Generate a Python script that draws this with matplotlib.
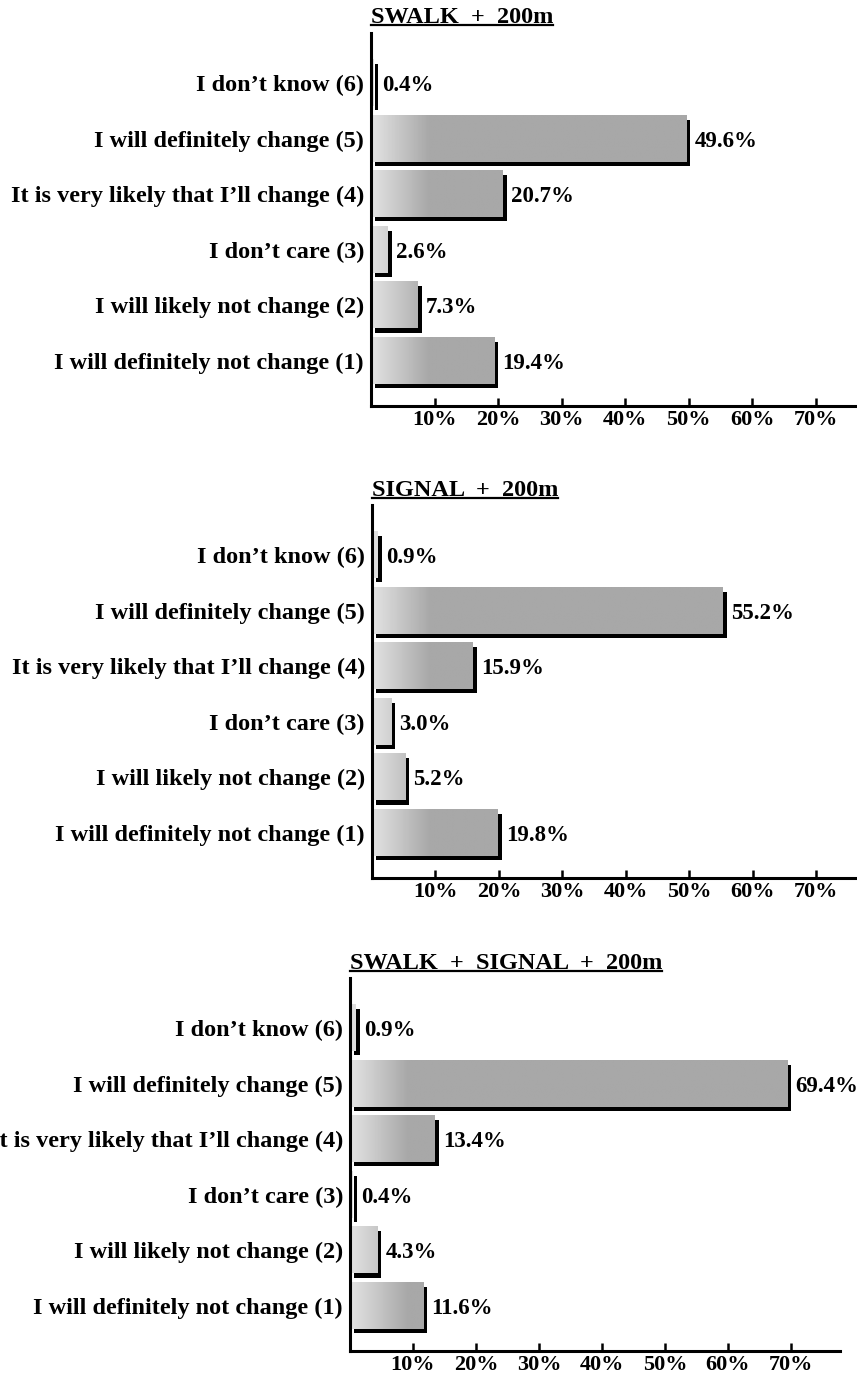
import numpy as np
import matplotlib
matplotlib.use('Agg')
import matplotlib.pyplot as plt
import matplotlib.patheffects as pe
from matplotlib.lines import Line2D

plt.rcParams['font.family'] = ['Liberation Serif', 'DejaVu Serif']
plt.rcParams['font.weight'] = 'bold'

# categories, top to bottom as shown
categories = ['I don’t know (6)',
              'I will definitely change (5)',
              'It is very likely that I’ll change (4)',
              'I don’t care (3)',
              'I will likely not change (2)',
              'I will definitely not change (1)']

titles = ['SWALK  +  200m', 'SIGNAL  +  200m', 'SWALK  +  SIGNAL  +  200m']
swalk = [0.4, 49.6, 20.7, 2.6, 7.3, 19.4]
signal = [0.9, 55.2, 15.9, 3.0, 5.2, 19.8]
both = [0.9, 69.4, 13.4, 0.4, 4.3, 11.6]
series = [swalk, signal, both]

xticks = [10, 20, 30, 40, 50, 60, 70]
xticklabels = ['10%', '20%', '30%', '40%', '50%', '60%', '70%']

fig = plt.figure(figsize=(8.57, 13.77), dpi=100)

# axes rectangles in figure fractions, and right x limit
rects = [[0.4329, 0.7052, 0.5671, 0.2709],
         [0.4340, 0.3624, 0.5660, 0.2709],
         [0.4084, 0.0189, 0.5718, 0.2709]]
xmax = [76.5, 76.4, 77.8]

# gray shading for the bars: light near the axis, darker further out
def shade(x):
    t = np.clip(x / 9.0, 0, 1)
    return 0.89 - 0.23 * t

titles_txt = []
for i in range(3):
    ax = fig.add_axes(rects[i])
    vals = series[i]
    ypos = np.arange(len(vals))[::-1]
    bars = ax.barh(ypos, vals, height=0.83, color='#b0b0b0', zorder=2,
                   path_effects=[pe.SimplePatchShadow(offset=(3, -3), shadow_rgbFace='black', alpha=1.0),
                                 pe.Normal()])
    for b in bars:
        x0, y0, w, h = b.get_x(), b.get_y(), b.get_width(), b.get_height()
        xs = np.linspace(x0, x0 + w, 200)
        img = shade(xs)[None, :]
        ax.imshow(img, extent=[x0, x0 + w, y0, y0 + h], cmap='gray', vmin=0, vmax=1,
                  aspect='auto', zorder=2.5, interpolation='bilinear')
    for y, v in zip(ypos, vals):
        ax.annotate(f'{v:.1f}%', (v, y), xytext=(6, 0), textcoords='offset points',
                    va='center_baseline', ha='left', fontsize=16.5, fontweight='bold')

    ax.set_xlim(0, xmax[i])
    ax.set_ylim(-0.81, 5.9)
    ax.set_yticks(ypos)
    ax.set_yticklabels(categories, fontsize=17.5, fontweight='bold')
    ax.set_xticks(xticks)
    ax.set_xticklabels(xticklabels, fontsize=16, fontweight='bold')
    ax.tick_params(axis='y', length=0, pad=5)
    ax.tick_params(axis='x', direction='in', length=6, width=1.8, pad=3)
    for s in ['top', 'right']:
        ax.spines[s].set_visible(False)
    for s in ['left', 'bottom']:
        ax.spines[s].set_linewidth(2.2)
    t = ax.text(0, 1.04, titles[i], transform=ax.transAxes, ha='left', va='center',
                fontsize=17.5, fontweight='bold')
    titles_txt.append(t)

# underline the titles
fig.canvas.draw()
inv = fig.transFigure.inverted()
for t in titles_txt:
    bb = t.get_window_extent()
    (x0, y0), (x1, _) = inv.transform([(bb.x0, bb.y0 + 3), (bb.x1, bb.y0 + 3)])
    fig.add_artist(Line2D([x0, x1], [y0, y0], color='black', lw=1.6, transform=fig.transFigure))

fig.savefig('out.png', dpi=100)
